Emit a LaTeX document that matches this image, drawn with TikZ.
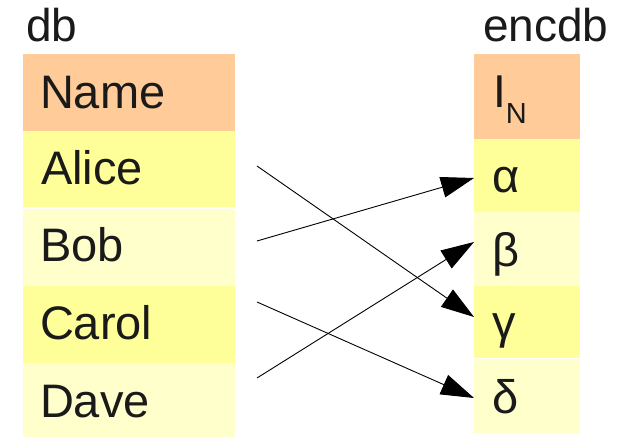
\documentclass[tikz,border=0pt]{standalone}
\usepackage{fontspec}
\setmainfont{Liberation Sans}
\usetikzlibrary{arrows.meta}
\definecolor{hdr}{HTML}{FFCC99}
\definecolor{rowA}{HTML}{FFFF99}
\definecolor{rowB}{HTML}{FFFFCC}
\definecolor{txt}{HTML}{1A1A1A}
\begin{document}
\begin{tikzpicture}[x=1pt,y=-1pt,
  cell/.style={draw=none,inner sep=0pt,outer sep=0pt,minimum width=#1},
  lbl/.style={anchor=base west,inner sep=0pt,outer sep=0pt,text=txt,font=\fontsize{47}{47}\selectfont},
  ttl/.style={anchor=base west,inner sep=0pt,outer sep=0pt,text=txt,font=\fontsize{46}{46}\selectfont},
  link/.style={draw=black,line width=0.9pt,-{Triangle[length=33pt,width=21pt]}}]
\useasboundingbox (0,0) rectangle (624,438);
% left table cells
\node[cell=212pt,fill=hdr,minimum height=77pt] (cname) at (129,92.5) {};
\node[cell=212pt,fill=rowA,minimum height=76pt] (calice) at (129,169.25) {};
\node[cell=212pt,fill=rowB,minimum height=77pt] (cbob) at (129,247.25) {};
\node[cell=212pt,fill=rowA,minimum height=76.5pt] (ccarol) at (129,324.5) {};
\node[cell=212pt,fill=rowB,minimum height=74pt] (cdave) at (129,400.25) {};
% right table cells
\node[cell=106pt,fill=hdr,minimum height=85pt] (cin) at (527,96.5) {};
\node[cell=106pt,fill=rowA,minimum height=73pt] (calpha) at (527,175.5) {};
\node[cell=106pt,fill=rowB,minimum height=74pt] (cbeta) at (527,249) {};
\node[cell=106pt,fill=rowA,minimum height=72.5pt] (cgamma) at (527,322.25) {};
\node[cell=106pt,fill=rowB,minimum height=73.5pt] (cdelta) at (527,396.25) {};
% titles
\node[ttl] (tdb) at (26,42) {db};
\node[ttl] (tenc) at (483,42) {encdb};
% left texts
\node[lbl] (tname) at (40,109) {Name};
\node[lbl] (talice) at (41,185) {Alice};
\node[lbl] (tbob) at (40,262) {Bob};
\node[lbl] (tcarol) at (40,340) {Carol};
\node[lbl] (tdave) at (40,417) {Dave};
% right texts
\node[ttl] (tin) at (493,108) {I\raisebox{-16pt}{\fontsize{29}{29}\selectfont N}};
\node[lbl] (talpha) at (492,193) {α};
\node[lbl] (tbeta) at (492,266.5) {β};
\node[lbl] (tgamma) at (492,339) {γ};
\node[lbl] (tdelta) at (492,413) {δ};
% connector ends
\coordinate (sA) at (257,166);
\coordinate (sB) at (257,241);
\coordinate (sC) at (257,302);
\coordinate (sD) at (257,378);
\coordinate (eA) at (474,178);
\coordinate (eB) at (474,242);
\coordinate (eG) at (474,317);
\coordinate (eD) at (474,398);
\draw[link] (sA) -- (eG);
\draw[link] (sB) -- (eA);
\draw[link] (sC) -- (eD);
\draw[link] (sD) -- (eB);
\end{tikzpicture}
\end{document}
